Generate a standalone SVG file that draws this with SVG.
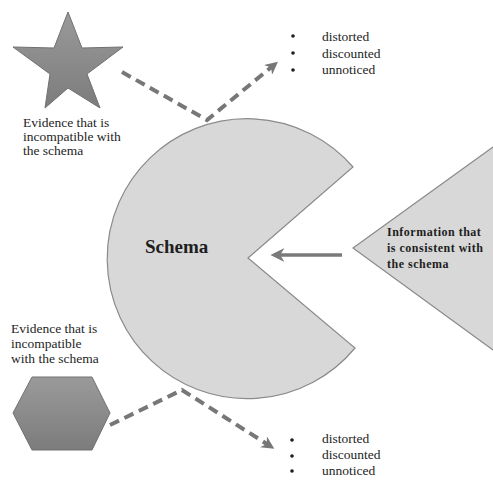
<svg xmlns="http://www.w3.org/2000/svg" width="493" height="481" viewBox="0 0 493 481">
<style>
.t{font-family:"Liberation Serif","Times New Roman",serif;fill:#1e1e1e;font-size:13.5px}
.b{font-family:"Liberation Serif","Times New Roman",serif;fill:#1e1e1e;font-weight:bold}
.dash{fill:none;stroke:#777;stroke-width:4;stroke-dasharray:10 6}
.shape{fill:#d8d8d8;stroke:#8a8a8a;stroke-width:1.2}
</style>
<defs>
<linearGradient id="g1" x1="0" y1="0" x2="0" y2="1">
<stop offset="0" stop-color="#9a9a9a"/>
<stop offset="1" stop-color="#7c7c7c"/>
</linearGradient>
<marker id="ah" viewBox="0 0 10 10" refX="6" refY="5" markerWidth="3.2" markerHeight="3.2" orient="auto" markerUnits="strokeWidth">
<path d="M0,0 L10,5 L0,10 L3,5 Z" fill="#777"/>
</marker>
<marker id="ah2" viewBox="0 0 10 10" refX="6" refY="5" markerWidth="4" markerHeight="4" orient="auto" markerUnits="strokeWidth">
<path d="M0,0 L10,5 L0,10 L3,5 Z" fill="#7a7a7a"/>
</marker>
</defs>
<rect width="493" height="481" fill="#ffffff"/>

<g id="schema">
<path class="shape" d="M248 258 L353 167 A140 140 0 1 0 355 348 Z"/>
<text class="b" x="145" y="253" font-size="19">Schema</text>
</g>

<g id="consistent">
<path class="shape" d="M353 248 L500 142 L500 355 Z"/>
<text class="b" font-size="12" letter-spacing="0.5"><tspan x="387" y="236">Information that</tspan><tspan x="387" y="252">is consistent with</tspan><tspan x="387" y="268">the schema</tspan></text>
</g>

<g id="star">
<path d="M68 12 L82 48 L123 47 L87 74 L100 108 L68 88 L45 108 L50 74 L13 47 L54 48 Z" fill="url(#g1)" stroke="#707070" stroke-width="1"/>
<text class="t"><tspan x="23" y="127">Evidence that is</tspan><tspan x="23" y="141">incompatible with</tspan><tspan x="23" y="155">the schema</tspan></text>
</g>

<g id="hexagon">
<path d="M13 413 L32 377 L92 377 L110 413 L92 450 L32 450 Z" fill="url(#g1)" stroke="#707070" stroke-width="1"/>
<text class="t"><tspan x="11" y="333">Evidence that is</tspan><tspan x="11" y="348">incompatible</tspan><tspan x="11" y="363">with the schema</tspan></text>
</g>

<g id="list-top">
<circle cx="293" cy="36" r="1.8" fill="#1e1e1e"/>
<circle cx="293" cy="53" r="1.8" fill="#1e1e1e"/>
<circle cx="293" cy="70" r="1.8" fill="#1e1e1e"/>
<text class="t" font-size="13"><tspan x="322" y="41">distorted</tspan><tspan x="322" y="58">discounted</tspan><tspan x="322" y="74">unnoticed</tspan></text>
</g>

<g id="list-bottom">
<circle cx="292" cy="440" r="1.8" fill="#1e1e1e"/>
<circle cx="292" cy="456" r="1.8" fill="#1e1e1e"/>
<circle cx="292" cy="471" r="1.8" fill="#1e1e1e"/>
<text class="t" font-size="13"><tspan x="322" y="443">distorted</tspan><tspan x="322" y="459">discounted</tspan><tspan x="322" y="475">unnoticed</tspan></text>
</g>

<g id="connectors">
<path class="dash" d="M122 72 L207 120 L274 65" marker-end="url(#ah)"/>
<path class="dash" d="M110 425 L182 390 L270 446" marker-end="url(#ah)"/>
<line x1="342" y1="255" x2="276" y2="255" stroke="#7a7a7a" stroke-width="3.5" marker-end="url(#ah2)"/>
</g>
</svg>
